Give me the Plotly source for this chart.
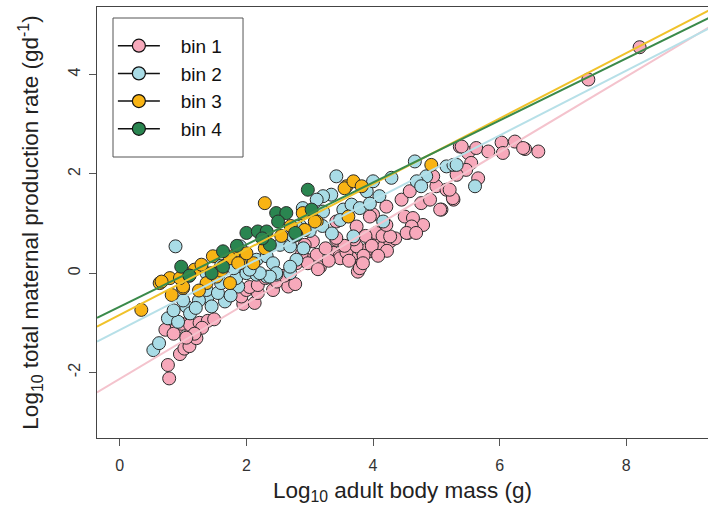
import plotly.graph_objects as go

# Log10 adult body mass (g) and log10 total maternal production rate (g/d), by bin
bin1_x = [0.78, 0.76, 0.95, 1.02, 1.10, 1.21, 1.13, 0.72, 0.90, 0.98, 1.11, 1.26, 1.39, 1.49, 1.30, 1.18, 1.05, 0.85,
          1.95, 2.13, 1.92, 2.00, 2.18, 2.05, 2.18, 2.42, 2.48, 2.66, 2.77, 2.30, 2.60,
          2.79, 2.95, 3.11, 3.16, 3.05, 2.92, 2.87, 2.97, 3.13, 3.37, 3.47, 3.66, 3.76, 3.82, 3.95, 4.10, 4.27,
          3.42, 3.48, 3.58, 3.79, 3.90, 4.00, 4.05, 3.74, 3.62, 3.85, 3.70, 3.88, 3.98, 4.15, 4.22, 4.35, 4.08,
          3.55, 3.30, 3.25, 3.84, 4.27, 4.55, 4.79,
          3.42, 4.00, 4.21, 4.45, 4.58, 4.76, 4.90, 5.00, 5.16, 5.27, 5.08, 4.95, 4.50, 4.63, 4.61, 4.53, 4.68,
          4.21, 3.95, 3.74, 3.42, 5.06,
          5.37, 5.50, 5.63, 5.82, 6.03, 6.05, 6.24, 6.40, 6.61, 5.55, 5.47, 5.32, 5.66, 5.26, 5.21, 6.37, 5.40,
          7.40, 8.21]
bin1_y = [-2.12, -1.85, -1.63, -1.52, -1.47, -1.31, -1.18, -1.14, -1.10, -1.02, -1.04, -1.00, -0.96, -0.93, -1.10, -1.22, -1.30, -1.22,
          -0.62, -0.60, -0.47, -0.34, -0.40, -0.28, -0.24, -0.34, -0.17, -0.27, -0.22, -0.10, -0.05,
          0.20, 0.27, 0.37, 0.12, 0.64, 0.57, 0.37, 0.20, 0.08, 0.41, 0.34, 0.30, 0.03, 0.20, 0.44, 0.57, 0.64,
          0.67, 0.30, 0.42, 0.10, 0.47, 0.67, 0.81, 0.54, 0.25, 0.35, 0.68, 0.75, 0.55, 0.75, 0.45, 0.70, 0.35,
          0.55, 0.25, 0.50, 0.20, 0.74, 0.81, 0.97,
          1.04, 1.18, 1.34, 1.48, 1.65, 1.41, 1.48, 1.75, 1.68, 1.48, 1.28, 1.95, 1.14, 1.11, 0.94, 0.81, 0.81,
          0.97, 1.14, 0.94, 0.71, 1.28,
          2.55, 2.42, 2.52, 2.45, 2.63, 2.42, 2.65, 2.50, 2.45, 2.22, 2.08, 1.98, 1.91, 1.51, 1.68, 2.52, 2.55,
          3.90, 4.55]

bin2_x = [0.53, 0.62, 0.76, 0.92, 1.05, 1.11, 1.39, 1.45, 1.66, 1.25, 1.37, 1.55, 1.87, 1.84, 2.00, 2.16, 2.32, 2.47,
          2.69, 1.20, 1.60, 1.75, 0.85, 1.00,
          0.88, 1.90, 2.00, 2.16, 2.32, 2.42, 2.47, 2.37, 2.21, 2.05, 2.53, 2.69, 2.74, 2.79, 2.69, 1.37, 1.60,
          1.80, 2.90, 3.00, 2.85,
          3.42, 3.34, 3.21, 3.11, 3.53, 3.66, 3.79, 3.90, 4.00, 4.29, 4.66, 4.84, 5.16, 5.27, 4.69, 4.76, 3.48,
          4.16, 3.69, 2.89, 3.21, 2.79, 5.32, 5.61, 4.10, 3.95, 3.20, 3.35]
bin2_y = [-1.55, -1.41, -0.91, -0.98, -0.67, -0.81, -0.47, -0.67, -0.57, -0.55, -0.34, -0.40, -0.27, -0.10, 0.00, -0.03, -0.07, -0.03,
          0.00, -0.70, -0.20, -0.45, -0.75, -0.55,
          0.54, 0.54, 0.34, 0.27, 0.34, 0.20, 0.00, -0.07, 0.00, 0.07, 0.57, 0.54, 0.74, 0.27, 0.13, 0.00, 0.15,
          0.10, 0.50, 0.85, 0.95,
          1.95, 1.58, 1.55, 1.48, 1.28, 1.38, 1.31, 1.65, 1.85, 1.92, 2.25, 1.95, 2.15, 2.18, 1.85, 1.75, 1.07,
          1.04, 0.74, 1.31, 1.24, 0.94, 2.18, 1.75, 1.55, 1.40, 0.95, 0.80]

bin3_x = [0.34, 0.63, 0.79, 0.82, 1.00, 1.18, 1.37, 1.47, 1.53, 1.74, 1.79, 1.90, 2.11, 2.29, 2.29, 3.11, 3.58, 3.61,
          0.66, 1.29, 1.74, 1.87, 1.00, 3.55, 3.69, 3.82, 3.08, 2.89, 2.92, 4.92, 0.95, 1.10, 1.60, 2.00, 2.55,
          2.70, 1.25]
bin3_y = [-0.74, -0.20, -0.10, -0.44, -0.30, 0.07, -0.20, 0.34, -0.07, -0.20, 0.34, 0.20, 0.20, 1.41, 0.50, 1.04, 1.75, 1.14,
          -0.17, 0.17, 0.30, 0.20, -0.27, 1.71, 1.85, 1.75, 1.04, 1.21, 0.87, 2.18, -0.10, -0.05, 0.05, 0.40, 0.75,
          0.95, -0.35]

bin4_x = [0.97, 1.63, 2.00, 2.18, 2.32, 2.37, 2.47, 2.63, 2.50, 2.79, 1.45, 1.63, 2.97, 3.03, 2.77, 1.10, 1.85, 2.25]
bin4_y = [0.13, 0.44, 0.81, 0.84, 0.84, 0.57, 1.21, 1.21, 1.04, 0.77, 0.00, 0.13, 1.68, 1.28, 0.81, -0.05, 0.55, 0.70]

# Fitted regression lines per bin
fit_intercept = [-2.13, -1.145, -0.84, -0.675]
fit_slope = [0.761, 0.653, 0.659, 0.625]

bin_names = ["bin 1", "bin 2", "bin 3", "bin 4"]
fill_colors = ["#F7A9BB", "#A9DCE6", "#F9B414", "#2A8550"]
line_colors = ["#F4C3CD", "#B7E0E8", "#F0C22A", "#3A8A4A"]

X_RANGE = [-0.36, 9.29]
Y_RANGE = [-3.32, 5.36]

xs = [bin1_x, bin2_x, bin3_x, bin4_x]
ys = [bin1_y, bin2_y, bin3_y, bin4_y]

fig = go.Figure()

for i in range(4):
    fig.add_trace(go.Scatter(
        x=xs[i], y=ys[i], mode="markers", showlegend=False,
        marker=dict(size=13, color=fill_colors[i], line=dict(color="#2b2b2b", width=1)),
    ))

# Regression lines across the full x extent
line_x = [-0.36, 9.36]
for i in range(4):
    fig.add_trace(go.Scatter(
        x=line_x, y=[fit_intercept[i] + fit_slope[i] * v for v in line_x],
        mode="lines", showlegend=False,
        line=dict(color=line_colors[i], width=2),
    ))

# Legend entries: black line through a filled circle
NBSP = "\u00a0"
for i in range(4):
    fig.add_trace(go.Scatter(
        x=[None], y=[None], mode="lines+markers", name=NBSP * 3 + bin_names[i],
        line=dict(color="#111111", width=1.5),
        marker=dict(size=13, color=fill_colors[i], line=dict(color="#111111", width=1.2)),
    ))

axis_font = dict(family="Liberation Sans, Arial, sans-serif", size=16, color="#333333")
title_font = dict(family="Liberation Sans, Arial, sans-serif", size=22.5, color="#222222")

fig.update_layout(
    width=708, height=511,
    margin=dict(l=97, r=0, t=7, b=73),
    paper_bgcolor="white", plot_bgcolor="white",
    font=dict(family="Liberation Sans, Arial, sans-serif", color="#222222"),
    legend=dict(
        x=0.026, y=0.954, xanchor="left", yanchor="top",
        borderwidth=0, bgcolor="rgba(0,0,0,0)",
        font=dict(size=19, color="#111111"),
        itemwidth=42,
    ),
    # frame around the legend
    shapes=[dict(type="rect", xref="paper", yref="paper",
                 x0=0.0262, x1=0.239, y0=1 - 150 / 431, y1=1 - 11 / 431,
                 line=dict(color="#555555", width=1), fillcolor="rgba(0,0,0,0)", layer="above")],
    xaxis=dict(
        range=X_RANGE, tickvals=[0, 2, 4, 6, 8], ticktext=["0", "2", "4", "6", "8"],
        showgrid=False, zeroline=False,
        showline=True, mirror=True, linecolor="#444444", linewidth=1.2,
        ticks="outside", ticklen=7, tickcolor="#555555",
        tickfont=axis_font, ticklabelstandoff=6,
        title=dict(text="Log<sub>10</sub> adult body mass (g)", font=title_font, standoff=8),
    ),
    yaxis=dict(
        range=Y_RANGE, tickvals=[-2, 0, 2, 4], ticktext=["-2", "0", "2", "4"],
        showgrid=False, zeroline=False,
        showline=True, mirror=False, linecolor="#444444", linewidth=1.2,
        ticks="outside", ticklen=7, tickcolor="#555555",
        tickangle=-90, tickfont=axis_font, ticklabelstandoff=3,
        title=dict(text="Log<sub>10</sub> total maternal production rate (gd<sup>-1</sup>)",
                   font=title_font, standoff=20),
    ),
)

fig.write_html("out.html")
